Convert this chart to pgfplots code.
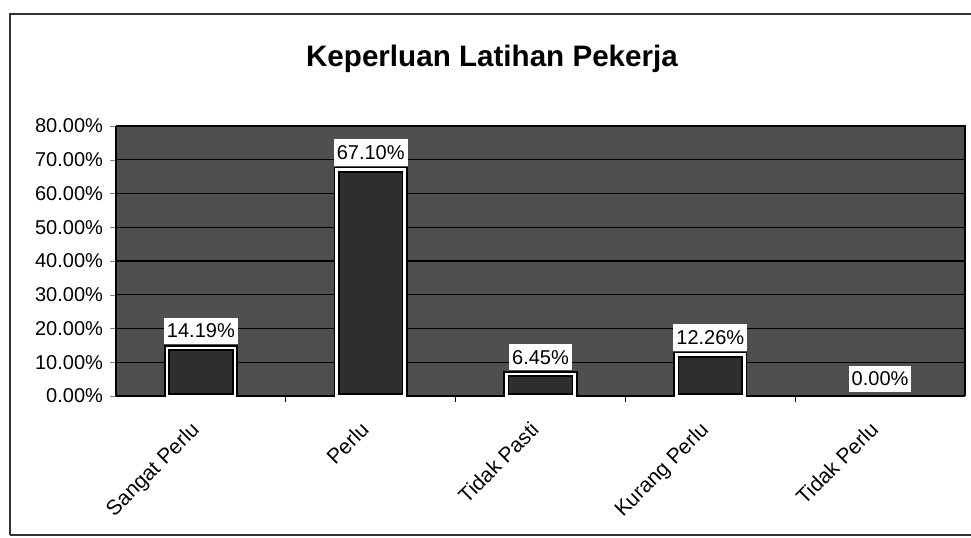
\documentclass[border=0pt]{standalone}
\usepackage{pgfplots}
\pgfplotsset{compat=1.18}
\usepackage{fontspec}
\setmainfont{Liberation Sans}
\pgfplotsset{mylabels/.style={
  nodes near coords={\pgfmathprintnumber[fixed,fixed zerofill,precision=2,assume math mode=true]{\pgfplotspointmeta}\%},
  nodes near coords style={fill=white, draw=none, line width=0pt, inner xsep=1.5pt, inner ysep=3pt, font=\fontsize{10}{12}\selectfont, text=black, yshift=2pt}}}
\begin{document}
\begin{tikzpicture}
\useasboundingbox (0,0) rectangle (485.5pt,268.5pt);
\draw[line width=0.7pt, black!80] (5pt,1pt) -- (5pt,261.5pt) -- (495pt,261.5pt);
\draw[line width=0.7pt, black!80] (5pt,1pt) -- (495pt,1pt);
\node[font=\bfseries\fontsize{14.8}{17}\selectfont] at (246pt,239pt) {Keperluan Latihan Pekerja};
\begin{axis}[
  at={(58pt,70.5pt)}, anchor=south west,
  scale only axis, width=424.5pt, height=135pt,
  xmin=-0.5, xmax=4.5, ymin=0, ymax=80,
  axis background/.style={fill=black!69},
  ybar, bar width=34pt, bar shift=0pt,
  xtick={0,1,2,3,4},
  xticklabels={Sangat Perlu,Perlu,Tidak Pasti,Kurang Perlu,Tidak Perlu},
  x tick label style={rotate=45, anchor=north east, font=\fontsize{10.5}{12}\selectfont, xshift=-7pt, yshift=1pt},
  major x tick style={draw=none},
  minor xtick={0.5,1.5,2.5,3.5},
  minor x tick style={black, line width=0.6pt},
  ytick={0,10,...,80},
  yticklabels={0.00\%,10.00\%,20.00\%,30.00\%,40.00\%,50.00\%,60.00\%,70.00\%,80.00\%},
  y tick label style={font=\fontsize{10}{12}\selectfont},
  tick align=outside,
  major tick length=3pt, minor tick length=3pt,
  ymajorgrids, grid style={black, line width=0.6pt},
  axis line style={black, line width=0.7pt},
  axis x line*=bottom, axis y line*=left,
]
\addplot[fill=black!82, draw=black, line width=3pt, mylabels]
  coordinates {(0,14.19) (1,67.10) (2,6.45) (3,12.26)};
\addplot[fill=none, draw=white, line width=1.2pt, forget plot]
  coordinates {(0,14.19) (1,67.10) (2,6.45) (3,12.26)};
\addplot[fill=none, draw=none, forget plot, mylabels]
  coordinates {(4,0.00)};
\end{axis}
\draw[line width=0.7pt, black] (482.5pt,70.5pt) -- (482.5pt,205.5pt) -- (58pt,205.5pt);
\end{tikzpicture}
\end{document}
